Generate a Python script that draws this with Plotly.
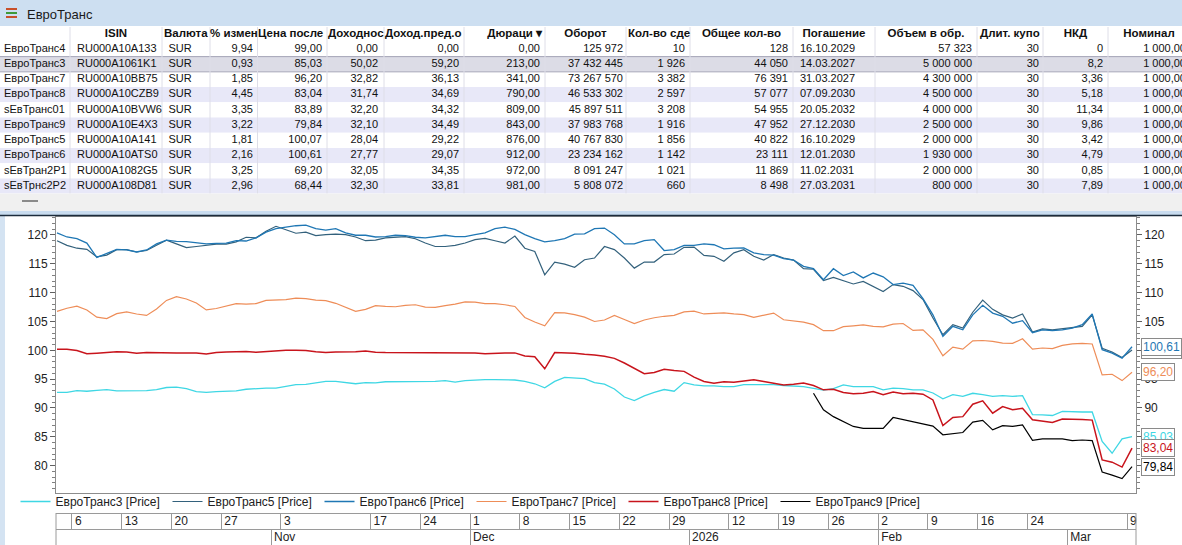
import plotly.graph_objects as go

W, H = 1182, 545


def px_x(p):
    return p / W


def px_y(p):
    return 1 - p / H


# ---------------- table data ----------------
names = ["ЕвроТранс4", "ЕвроТранс3", "ЕвроТранс7", "ЕвроТранс8", "sЕвТранс01",
         "ЕвроТранс9", "ЕвроТранс5", "ЕвроТранс6", "sЕвТран2P1", "sЕвТрнс2P2"]
isin = ["RU000A10A133", "RU000A1061K1", "RU000A10BB75", "RU000A10CZB9", "RU000A10BVW6",
        "RU000A10E4X3", "RU000A10A141", "RU000A10ATS0", "RU000A1082G5", "RU000A108D81"]
currency = ["SUR"] * 10
change_pct = [9.94, 0.93, 1.85, 4.45, 3.35, 3.22, 1.81, 2.16, 3.25, 2.96]
last_price = [99.00, 85.03, 96.20, 83.04, 83.89, 79.84, 100.07, 100.61, 69.20, 68.44]
yield_pct = [0.00, 50.02, 32.82, 31.74, 32.20, 32.10, 28.04, 27.77, 32.05, 32.30]
yield_prev = [0.00, 59.20, 36.13, 34.69, 34.32, 34.49, 29.22, 29.07, 34.35, 33.81]
duration = [0.00, 213.00, 341.00, 790.00, 809.00, 843.00, 876.00, 912.00, 972.00, 981.00]
turnover = [125972, 37432445, 73267570, 46533302, 45897511, 37983768, 40767830, 23234162, 8091247, 5808072]
deals = [10, 1926, 3382, 2597, 3208, 1916, 1856, 1142, 1021, 660]
total_qty = [128, 44050, 76391, 57077, 54955, 47952, 40822, 23111, 11869, 8498]
maturity = ["16.10.2029", "14.03.2027", "31.03.2027", "07.09.2030", "20.05.2032",
            "27.12.2030", "16.10.2029", "12.01.2030", "11.02.2031", "27.03.2031"]
issue_volume = [57323, 5000000, 4300000, 4500000, 4000000, 2500000, 2000000, 1930000, 2000000, 800000]
coupon_days = [30] * 10
accrued = [0, 8.2, 3.36, 5.18, 11.34, 9.86, 3.42, 4.79, 0.85, 7.89]
nominal = [1000.00] * 10

headers = ["", "ISIN", "Валюта", "% измен", "Цена после", "Доходнос", "Доход.пред.о",
           "Дюраци ▾", "Оборот", "Кол-во сде", "Общее кол-во", "Погашение",
           "Объем в обр.", "Длит. купо", "НКД", "Номинал"]

# ---------------- chart data (one value per trading day) ----------------
trade_day = list(range(109))

week_tick_days = [2, 7, 12, 17, 23, 32, 37, 42, 47, 52, 57, 62, 68, 73, 78, 83, 88, 93, 98, 108]
week_tick_labels = ["6", "13", "20", "27", "3", "17", "24", "1", "8", "15", "22", "29",
                    "12", "19", "26", "2", "9", "16", "24", "9"]
month_start_days = [22, 42, 64, 83, 102]
month_labels = ["Nov", "Dec", "2026", "Feb", "Mar"]

e3_price = [92.7, 92.7, 93.0, 92.9, 93.05, 93.2, 92.95, 92.95, 93.0, 93.0,
            93.2, 93.55, 93.6, 93.35, 92.85, 92.7, 92.85, 92.95, 92.95, 93.25,
            93.4, 93.45, 93.45, 93.75, 94.05, 94.1, 94.3, 94.6, 94.6, 94.45,
            94.2, 94.4, 94.35, 94.55, 94.55, 94.55, 94.55, 94.55, 94.6, 94.75,
            94.5, 94.75, 94.85, 94.9, 94.9, 94.9, 94.85, 94.6, 94.2, 93.5,
            94.6, 95.3, 95.15, 95.1, 94.4, 94.15, 93.3, 91.9, 91.3, 92.1,
            92.7, 93.2, 92.9, 94.4, 94.0, 93.85, 93.85, 93.7, 93.7, 94.05,
            94.05, 94.05, 94.05, 93.9, 93.85, 93.7, 93.4, 93.1, 93.35, 94.0,
            93.7, 93.7, 93.7, 93.15, 93.45, 93.35, 93.15, 93.15, 92.6, 91.6,
            92.3, 92.0, 92.55, 92.3, 92.0, 92.15, 92.0, 92.15, 88.85, 88.8,
            88.7, 89.4, 89.3, 89.3, 89.3, 84.2, 82.15, 84.65, 85.03]

e5_price = [119.0, 118.2, 117.7, 117.5, 116.2, 116.5, 117.45, 117.45, 117.05, 117.3,
            118.2, 119.1, 118.45, 117.8, 118.0, 118.2, 118.4, 118.4, 118.8, 119.6,
            119.5, 120.65, 121.5, 120.9, 120.3, 120.5, 119.9, 120.05, 120.15, 120.05,
            119.65, 119.0, 119.1, 119.5, 119.6, 119.7, 119.35, 118.6, 118.0, 118.0,
            118.2, 118.6, 119.2, 119.4, 119.0, 118.6, 119.8, 117.7, 117.15, 113.1,
            115.3, 114.95, 114.4, 115.7, 116.0, 118.0, 117.45, 116.0, 114.25, 115.3,
            115.3, 116.6, 116.7, 117.85, 117.9, 116.45, 116.3, 115.45, 116.9, 117.45,
            116.3, 115.65, 116.6, 116.0, 115.65, 114.15, 114.05, 112.1, 112.65, 112.1,
            111.5, 111.95, 111.1, 110.2, 111.4, 111.1, 110.35, 108.8, 105.6, 102.7,
            104.45, 103.85, 106.6, 108.7, 107.1, 106.15, 105.6, 106.3, 103.15, 103.7,
            103.55, 103.75, 103.85, 104.15, 106.15, 100.35, 99.7, 98.75, 100.07]

e6_price = [120.35, 119.65, 119.36, 118.6, 116.1, 116.8, 117.5, 117.4, 117.05, 117.4,
            118.45, 119.1, 118.9, 118.85, 118.6, 118.45, 118.55, 118.6, 119.0, 118.95,
            119.5, 120.5, 121.1, 121.35, 121.6, 121.7, 121.1, 120.85, 121.1, 120.35,
            119.95, 119.95, 119.65, 119.7, 119.95, 119.9, 119.6, 119.5, 119.7, 119.95,
            119.7, 119.7, 120.05, 120.35, 121.1, 121.35, 120.95, 120.05, 119.35, 118.8,
            119.0, 119.35, 120.15, 120.2, 121.1, 121.2, 120.05, 118.45, 118.45, 119.0,
            119.2, 117.3, 117.45, 118.2, 118.2, 118.45, 118.3, 117.6, 117.7, 117.75,
            116.9, 116.6, 116.5, 115.9, 115.65, 114.55, 114.15, 112.25, 114.15, 112.95,
            113.6, 112.55, 113.4, 112.75, 111.4, 111.65, 111.25, 108.95, 106.15, 102.4,
            104.15, 103.55, 106.15, 107.8, 106.45, 105.9, 104.7, 105.15, 103.05, 103.55,
            103.4, 103.55, 103.85, 104.45, 106.3, 100.1, 99.5, 98.65, 100.61]

e7_price = [106.75, 107.3, 107.65, 107.0, 105.75, 105.5, 106.35, 106.65, 106.3, 106.05,
            107.15, 108.65, 109.3, 108.9, 108.2, 107.0, 107.25, 107.7, 108.1, 108.0,
            108.1, 108.65, 108.75, 108.8, 109.05, 108.95, 108.7, 108.6, 108.15, 107.45,
            106.75, 107.1, 107.75, 107.6, 107.55, 107.8, 107.9, 107.5, 107.45, 107.75,
            108.0, 108.4, 108.35, 108.1, 108.1, 107.9, 107.6, 105.7, 104.9, 104.25,
            106.55, 106.5, 106.2, 105.75, 105.0, 105.25, 106.05, 105.35, 104.65, 105.25,
            105.65, 105.9, 106.05, 106.65, 106.8, 106.3, 106.45, 106.5, 106.3, 106.2,
            105.7, 106.05, 106.45, 105.3, 105.1, 104.9, 104.45, 103.4, 103.4, 104.1,
            104.25, 104.4, 104.15, 104.05, 104.55, 104.65, 103.45, 103.55, 101.9, 99.05,
            100.55, 100.2, 101.65, 101.7, 101.55, 101.25, 101.2, 102.0, 100.2, 100.4,
            100.3, 100.85, 101.1, 101.2, 101.1, 95.75, 95.85, 94.75, 96.20]

e8_price = [100.2, 100.2, 99.95, 99.4, 99.5, 99.6, 99.75, 99.7, 99.5, 99.6,
            99.55, 99.55, 99.55, 99.55, 99.55, 99.35, 99.6, 99.7, 99.8, 99.8,
            99.65, 99.75, 99.95, 100.0, 100.0, 99.95, 99.75, 99.6, 99.7, 99.7,
            99.75, 99.9, 99.65, 99.6, 99.6, 99.6, 99.6, 99.6, 99.6, 99.6,
            99.6, 99.6, 99.55, 99.4, 99.5, 99.55, 99.55, 99.0, 98.9, 96.8,
            99.6, 99.6, 99.5, 99.3, 99.2, 98.95, 98.6, 97.8, 96.85, 95.95,
            96.15, 96.7, 96.5, 96.35, 95.35, 94.6, 94.3, 94.55, 94.45, 94.7,
            94.9, 94.6, 94.3, 94.0, 94.1, 94.35, 93.9, 93.15, 93.25, 92.7,
            92.45, 92.55, 92.85, 92.3, 92.75, 92.45, 92.55, 92.4, 91.4, 86.95,
            88.35, 88.5, 90.65, 91.25, 89.1, 90.25, 89.7, 89.95, 87.95, 87.75,
            87.5, 88.1, 88.1, 88.0, 87.9, 81.0, 80.6, 79.75, 83.04]

e9_price = [None] * 76 + [
    92.55, 89.7, 88.5, 87.65, 86.8, 86.45, 86.45, 86.45, 88.35, 88.0,
    87.6, 87.25, 86.85, 85.35, 85.6, 85.75, 87.55, 87.85, 86.2, 86.95,
    86.8, 87.05, 84.4, 84.65, 84.65, 84.65, 84.35, 84.45, 84.35, 78.9,
    78.35, 77.75, 79.84]

series_names = ["ЕвроТранс3 [Price]", "ЕвроТранс5 [Price]", "ЕвроТранс6 [Price]",
                "ЕвроТранс7 [Price]", "ЕвроТранс8 [Price]", "ЕвроТранс9 [Price]"]
series_values = [e3_price, e5_price, e6_price, e7_price, e8_price, e9_price]
series_colors = ["#3fd7e4", "#33617c", "#1f77b4", "#ee8d58", "#c8141c", "#000000"]
series_widths = [1.3, 1.2, 1.3, 1.2, 1.5, 1.2]

# ---------------- helpers ----------------
NBSP = "\u00a0"


def fmt_num(v, dec):
    s = f"{v:,.{dec}f}"
    return s.replace(",", NBSP).replace(".", ",")


def fmt_gen(v):
    return ("%g" % v).replace(".", ",")


FONT = "Liberation Sans, Arial, sans-serif"
fig = go.Figure()

# ---------------- table (text traces on a pixel-unit helper subplot) ----------------
columns = [
    names, isin, currency,
    [fmt_num(v, 2) for v in change_pct],
    [fmt_num(v, 2) for v in last_price],
    [fmt_num(v, 2) for v in yield_pct],
    [fmt_num(v, 2) for v in yield_prev],
    [fmt_num(v, 2) for v in duration],
    [fmt_num(v, 0) for v in turnover],
    [fmt_num(v, 0) for v in deals],
    [fmt_num(v, 0) for v in total_qty],
    maturity,
    [fmt_num(v, 0) for v in issue_volume],
    [str(v) for v in coupon_days],
    [fmt_gen(v) for v in accrued],
    [fmt_num(v, 2) for v in nominal],
]
row_index = list(range(len(names)))
col_bounds = [0, 70, 162, 210, 257.5, 327, 384, 464, 545, 626, 690, 793, 875, 977, 1043, 1108, 1190]
cell_anchor = [4, 77, 180, 253, 322, 378, 459, 540, 623, 685, 788, 800, 972, 1039, 1103, 1186]
cell_pos = ["middle right", "middle right", "middle center"] + ["middle left"] * 8 + \
           ["middle right", "middle left", "middle left", "middle left", "middle left"]
head_anchor = [35, 116, 164, 210, 258, 328, 385, 542, 585.5, 628, 741.5, 834, 926, 980, 1075.5, 1149]
head_pos = ["middle center", "middle center", "middle right", "middle right", "middle right",
            "middle right", "middle right", "middle left", "middle center", "middle right",
            "middle center", "middle center", "middle center", "middle right", "middle center",
            "middle center"]

fig.add_trace(go.Scatter(
    x=head_anchor, y=[-1] * len(headers), text=headers, mode="text",
    textposition=head_pos, textfont=dict(family=FONT, size=11.5, color="#111111", weight="bold"),
    xaxis="x4", yaxis="y4", showlegend=False, hoverinfo="skip", cliponaxis=True,
))
for vals, ax, pos in zip(columns, cell_anchor, cell_pos):
    fig.add_trace(go.Scatter(
        x=[ax] * len(vals), y=row_index, text=vals, mode="text", textposition=pos,
        textfont=dict(family=FONT, size=11, color="#111111"),
        xaxis="x4", yaxis="y4", showlegend=False, hoverinfo="skip", cliponaxis=True,
    ))

# ---------------- chart lines ----------------
for nm, vals, col, lw in zip(series_names, series_values, series_colors, series_widths):
    fig.add_trace(go.Scatter(
        x=trade_day, y=vals, mode="lines", name=nm,
        line=dict(color=col, width=lw), connectgaps=False,
        xaxis="x", yaxis="y", hoverinfo="x+y+name",
    ))

# invisible helper traces so the extra axes are drawn
fig.add_trace(go.Scatter(x=[], y=[], xaxis="x", yaxis="y2", showlegend=False, hoverinfo="skip"))
fig.add_trace(go.Scatter(x=[], y=[], xaxis="x2", yaxis="y", showlegend=False, hoverinfo="skip"))
fig.add_trace(go.Scatter(x=[], y=[], xaxis="x3", yaxis="y", showlegend=False, hoverinfo="skip"))

XR = [-0.1, 108.4]
YR = [75.26, 123.2]
axis_font = dict(family=FONT, size=12, color="#222222")

yaxis_common = dict(
    range=YR, dtick=5, tick0=0, ticks="outside", ticklen=5, tickcolor="#606060",
    minor=dict(dtick=1, tick0=0, ticks="outside", ticklen=3, tickcolor="#808080"),
    showline=True, linecolor="#8c8c8c", linewidth=1,
    showgrid=False, zeroline=False, tickfont=axis_font, fixedrange=True,
)
date_axis_common = dict(
    overlaying="x", anchor="free", side="bottom", range=XR, tickmode="array",
    ticks="outside", ticklen=16, tickcolor="#9a9a9a", tickwidth=1,
    showline=True, linecolor="#9a9a9a", showgrid=False, zeroline=False,
    ticklabelposition="outside right", ticklabelstandoff=-3, ticklabelshift=2,
    tickfont=axis_font,
)

fig.update_layout(
    width=W, height=H, autosize=False,
    margin=dict(l=0, r=0, t=0, b=0, pad=0),
    paper_bgcolor="#ffffff", plot_bgcolor="rgba(0,0,0,0)",
    font=dict(family=FONT, size=12, color="#222222"),
    xaxis=dict(domain=[px_x(56), px_x(1136)], range=XR, showticklabels=False, ticks="",
               showgrid=False, zeroline=False, showline=True, linecolor="#8c8c8c",
               mirror=True, anchor="y"),
    yaxis=dict(domain=[px_y(493), px_y(216.5)], anchor="x", side="left", **yaxis_common),
    yaxis2=dict(overlaying="y", anchor="x", side="right", **yaxis_common),
    xaxis2=dict(position=px_y(513),
                tickvals=[d - 0.5 for d in week_tick_days], ticktext=week_tick_labels,
                **date_axis_common),
    xaxis3=dict(position=px_y(529),
                tickvals=[d - 0.5 for d in month_start_days], ticktext=month_labels,
                **date_axis_common),
    xaxis4=dict(domain=[0, 1], range=[0, W], visible=False, fixedrange=True, anchor="y4"),
    yaxis4=dict(domain=[px_y(193.6), px_y(27)], range=[9.5, -1.445], visible=False,
                fixedrange=True, anchor="x4"),
    legend=dict(orientation="h", x=px_x(15.5), y=px_y(487), xanchor="left", yanchor="top",
                entrywidth=107, entrywidthmode="pixels", itemwidth=30,
                font=dict(family=FONT, size=12, color="#222222"),
                bgcolor="rgba(0,0,0,0)", traceorder="normal"),
    showlegend=True,
)

# ---------------- window / table decorations ----------------
row_fill = ["#ffffff", "#dcdce6", "#ffffff", "#e8e8f8", "#ffffff",
            "#e8e8f8", "#ffffff", "#e8e8f8", "#ffffff", "#e8e8f8"]
shapes = [
    dict(type="rect", xref="paper", yref="paper", x0=0, x1=1, y0=px_y(26), y1=1,
         fillcolor="#cddff1", line=dict(width=0), layer="below"),
    dict(type="rect", xref="paper", yref="paper", x0=0, x1=1, y0=px_y(211), y1=px_y(193.6),
         fillcolor="#f0f0f0", line=dict(width=0), layer="below"),
    dict(type="rect", xref="paper", yref="paper", x0=0, x1=1, y0=px_y(215), y1=px_y(211),
         fillcolor="#c9dcef", line=dict(width=0), layer="below"),
    dict(type="line", xref="paper", yref="paper", x0=0, x1=1, y0=px_y(215.5), y1=px_y(215.5),
         line=dict(color="#1c2c3c", width=1.5)),
    dict(type="rect", xref="paper", yref="paper", x0=0, x1=px_x(5), y0=0, y1=px_y(216),
         fillcolor="#d4e3f2", line=dict(width=0), layer="below"),
    dict(type="line", xref="paper", yref="paper", x0=px_x(22), x1=px_x(38), y0=px_y(201), y1=px_y(201),
         line=dict(color="#8a8a8a", width=2)),
    dict(type="line", xref="paper", yref="paper", x0=px_x(56), x1=px_x(56), y0=0, y1=px_y(513),
         line=dict(color="#9a9a9a", width=1)),
    dict(type="line", xref="paper", yref="paper", x0=px_x(1136), x1=px_x(1136), y0=0, y1=px_y(513),
         line=dict(color="#9a9a9a", width=1)),
]
for k, c in enumerate(row_fill):
    shapes.append(dict(type="rect", xref="x4", yref="y4", x0=0, x1=W, y0=k - 0.5, y1=k + 0.5,
                       fillcolor=c, line=dict(width=0), layer="below"))
for yb in (0.5, 1.5):
    shapes.append(dict(type="line", xref="x4", yref="y4", x0=0, x1=W, y0=yb, y1=yb,
                       line=dict(color="#a4a4b6", width=1), layer="below"))
for b in col_bounds[1:-1]:
    shapes.append(dict(type="line", xref="x4", yref="y4", x0=b, x1=b, y0=-1.445, y1=9.5,
                       line=dict(color="#dedee8", width=1), layer="below"))
for i, c in enumerate(["#c8502a", "#3f9a3a", "#c8502a"]):
    yy = 9 + i * 4
    shapes.append(dict(type="line", xref="paper", yref="paper", x0=px_x(6), x1=px_x(17),
                       y0=px_y(yy), y1=px_y(yy), line=dict(color=c, width=2)))
fig.update_layout(shapes=shapes)

annotations = [
    dict(text="ЕвроТранс", xref="paper", yref="paper", x=px_x(25), y=px_y(14),
         xanchor="left", yanchor="middle", showarrow=False,
         font=dict(family=FONT, size=13, color="#1a1a1a")),
]
label_order = [1, 2, 3, 0, 4, 5]
for k in label_order:
    vals = series_values[k]
    last = [v for v in vals if v is not None][-1]
    annotations.append(dict(
        text=fmt_num(last, 2), xref="paper", yref="y", x=px_x(1141), y=last,
        xanchor="left", yanchor="middle", showarrow=False,
        font=dict(family=FONT, size=12, color=series_colors[k]),
        bgcolor="#ffffff", bordercolor="#8a8a8a", borderwidth=1, borderpad=1,
    ))
fig.update_layout(annotations=annotations)

fig.write_html("out.html", config={"displayModeBar": False},
               post_script="document.body.style.margin='0px';document.body.style.overflow='hidden';")
